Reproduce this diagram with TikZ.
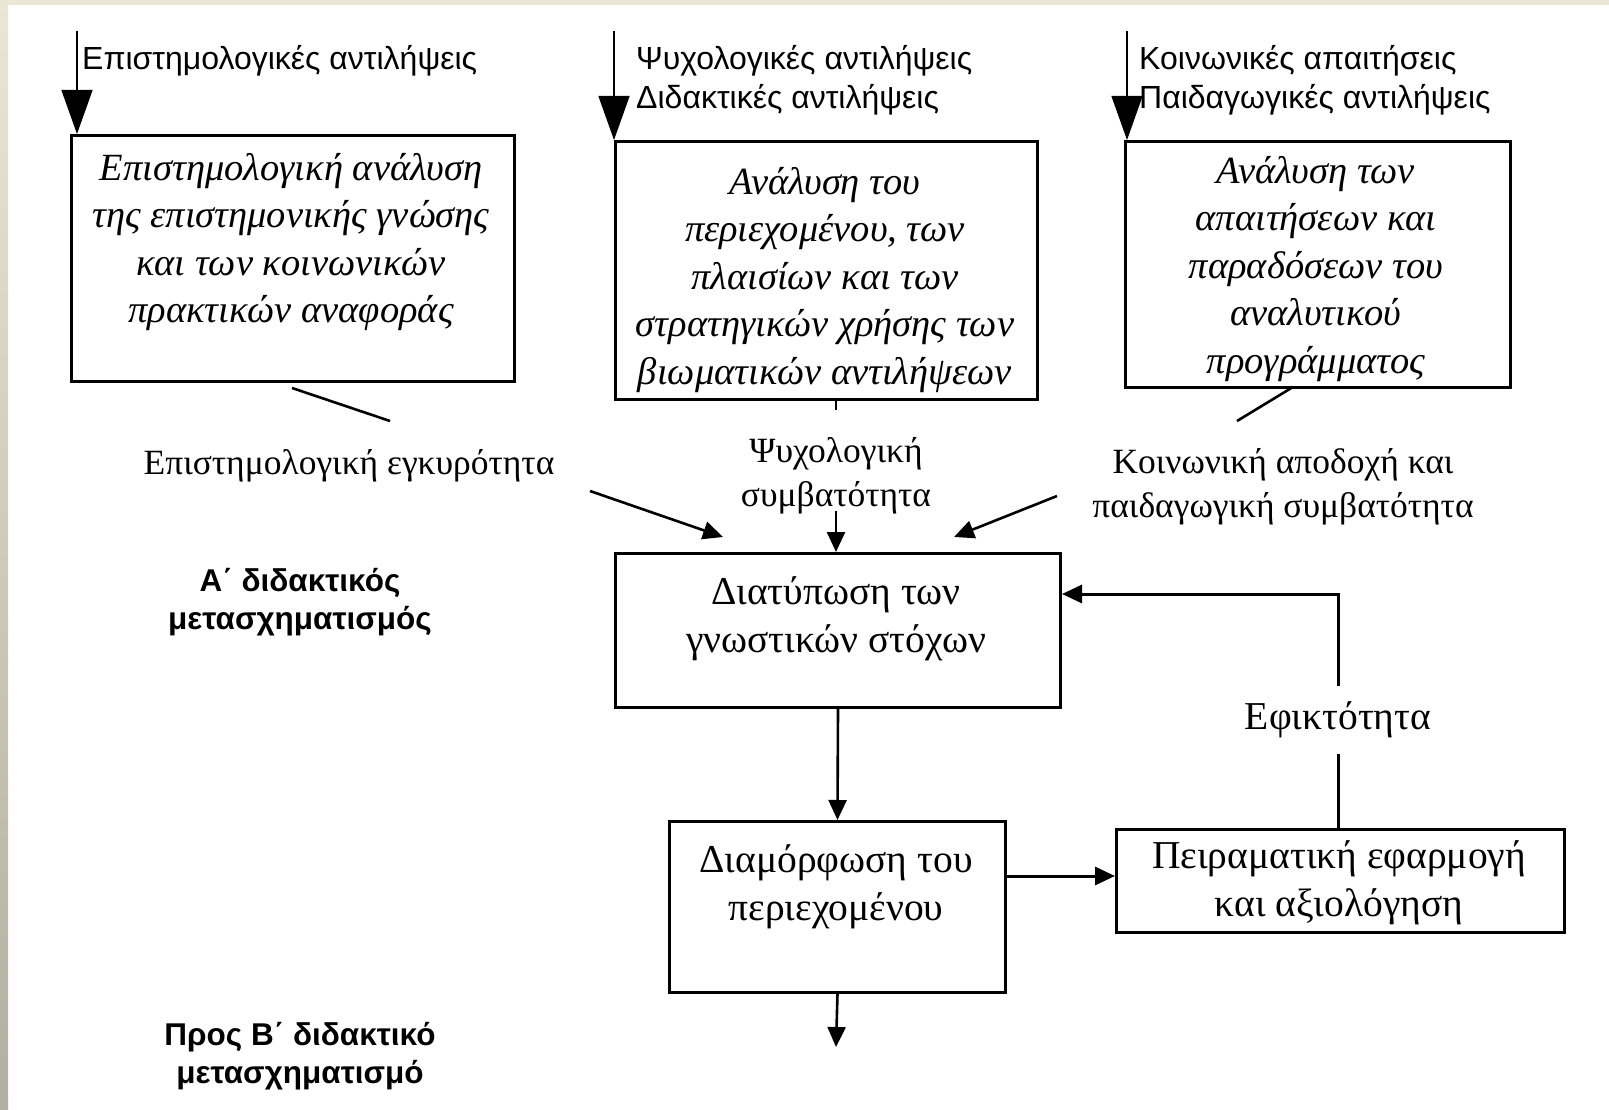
\documentclass[tikz,border=0pt]{standalone}
\usepackage{fontspec}
\setmainfont{Liberation Serif}
\newfontfamily\sansf{Liberation Sans}
\usetikzlibrary{arrows.meta}
\definecolor{topband}{RGB}{237,232,214}
\definecolor{sidetop}{RGB}{235,230,211}
\definecolor{sidebot}{RGB}{176,175,161}
\begin{document}
\begin{tikzpicture}[x=1pt,y=-1pt,
  box/.style={draw, line width=3pt, inner sep=0pt, anchor=north west},
  itx/.style={font=\fontsize{38.5}{47.5}\selectfont\itshape, align=center, inner sep=0pt},
  utx/.style={font=\fontsize{39.5}{48}\selectfont, align=center, inner sep=0pt},
  lbl/.style={font=\fontsize{35.5}{44}\selectfont, align=center, inner sep=0pt},
  slbl/.style={font=\sansf\fontsize{32}{39}\selectfont, inner sep=0pt, anchor=base west},
  blbl/.style={font=\sansf\bfseries\fontsize{31.5}{38}\selectfont, align=center, inner sep=0pt},
  toparrow/.style={line width=1.3pt, -{Triangle[length=44pt,width=31pt]}},
  arr/.style={line width=2.6pt, -{Triangle[length=20pt,width=18pt]}},
  plain/.style={line width=2.6pt}]
\useasboundingbox (0,0) rectangle (1609,1110);
\fill[white] (0,0) rectangle (1609,1110);
\fill[topband] (0,0) rectangle (1609,5);
\shade[top color=sidetop, bottom color=sidebot] (0,0) rectangle (8,1110);

% boxes
\node[box, minimum width=443pt, minimum height=246pt] (b1) at (70,134) {};
\node[box, minimum width=422pt, minimum height=258pt] (b2) at (614,140) {};
\node[box, minimum width=385pt, minimum height=246pt] (b3) at (1124,140) {};
\node[box, minimum width=445pt, minimum height=154pt] (b4) at (614,552) {};
\node[box, minimum width=336pt, minimum height=171pt] (b5) at (668,820) {};
\node[box, minimum width=448pt, minimum height=103pt] (b6) at (1115,828) {};

% box texts
\node[itx] (t1) at (291,242) {Επιστημολογική ανάλυση\\της επιστημονικής γνώσης\\και των κοινωνικών\\πρακτικών αναφοράς};
\node[itx] (t2) at (825,280) {Ανάλυση του\\περιεχομένου, των\\πλαισίων και των\\στρατηγικών χρήσης των\\βιωματικών αντιλήψεων};
\node[itx] (t3) at (1316,269) {Ανάλυση των\\απαιτήσεων και\\παραδόσεων του\\αναλυτικού\\προγράμματος};
\node[utx] (t4) at (836,619) {Διατύπωση των\\γνωστικών στόχων};
\node[utx] (t5) at (836,887) {Διαμόρφωση του\\περιεχομένου};
\node[utx] (t6) at (1339,883) {Πειραματική εφαρμογή\\και αξιολόγηση};

% top labels and arrows
\node[slbl] (p1) at (82,70) {Επιστημολογικές αντιλήψεις};
\node[slbl] (p2a) at (636,70) {Ψυχολογικές αντιλήψεις};
\node[slbl] (p2b) at (636,109) {Διδακτικές αντιλήψεις};
\node[slbl] (p3a) at (1139,70) {Κοινωνικές απαιτήσεις};
\node[slbl] (p3b) at (1139,109) {Παιδαγωγικές αντιλήψεις};
\coordinate (a1) at (77,31);
\coordinate (a2) at (614,31);
\coordinate (a3) at (1127,31);
\draw[toparrow] (a1) -- (a1 |- b1.north);
\draw[toparrow] (a2) -- (a2 |- b2.north);
\draw[toparrow] (a3) -- (a3 |- b3.north);

% middle labels
\node[lbl] (q1) at (349,466) {Επιστημολογική εγκυρότητα};
\node[lbl] (q2) at (836,476) {Ψυχολογική\\συμβατότητα};
\node[lbl] (q3) at (1283,487) {Κοινωνική αποδοχή και\\παιδαγωγική συμβατότητα};

\coordinate (l1a) at (292,388);
\coordinate (l1b) at (390,421);
\draw[plain] (l1a) -- (l1b);
\coordinate (e1a) at (590,491);
\coordinate (e1b) at (723,537);
\draw[arr] (e1a) -- (e1b);

\coordinate (s2) at (836,410);
\draw[plain] (s2 |- b2.south) -- (s2);
\coordinate (e2a) at (836,511);
\draw[arr] (e2a) -- (e2a |- b4.north);

\coordinate (l3a) at (1293,387);
\coordinate (l3b) at (1237,421);
\draw[plain] (l3a) -- (l3b);
\coordinate (e3a) at (1057,496);
\coordinate (e3b) at (954,537);
\draw[arr] (e3a) -- (e3b);

% side labels
\node[blbl] (c1) at (300,602) {Α΄ διδακτικός\\μετασχηματισμός};
\node[blbl] (c2) at (300,1056) {Προς Β΄ διδακτικό\\μετασχηματισμό};

% lower connectors
\draw[arr] (b4.south) -- (b5.north);
\coordinate (mid) at (0,876);
\draw[arr, line width=3pt] (b5.east |- mid) -- (b6.west |- mid);
\node[utx, minimum height=68pt] (eff) at (1338,720) {Εφικτότητα};
\coordinate (fb) at (0,594);
\draw[plain, line width=3pt] (b6.north -| eff) -- (eff.south);
\draw[arr, line width=3pt] (eff.north) |- (b4.east |- fb);
\coordinate (endp) at (836,1047);
\draw[arr] (b5.south) -- (endp);
\end{tikzpicture}
\end{document}
